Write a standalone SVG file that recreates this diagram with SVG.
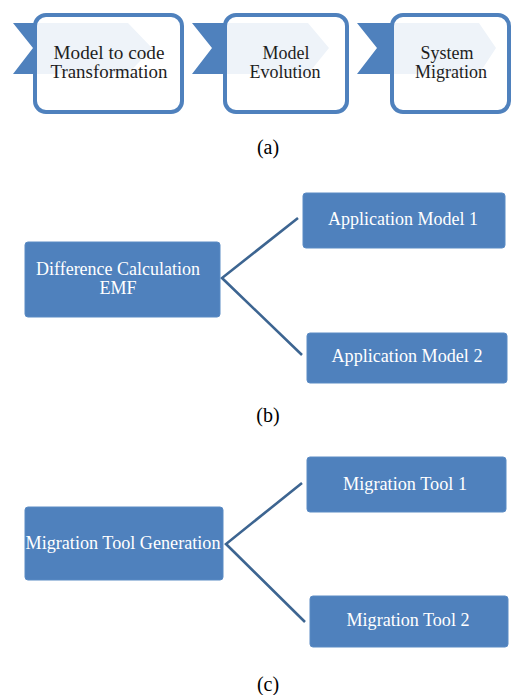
<svg xmlns="http://www.w3.org/2000/svg" width="511" height="695" viewBox="0 0 511 695">
<style>
.chev{fill:#4f81bd}
.pbox{fill:#ffffff;fill-opacity:0.9;stroke:#4f81bd;stroke-width:4}
text{font-family:'Liberation Serif','Times New Roman','DejaVu Serif',serif}
.ptxt{font-size:18px;fill:#1e1e1e;text-anchor:middle}
.bbox{fill:#4f81bd;stroke:#5b8bc4;stroke-width:1}
.btxt{font-size:18px;fill:#ffffff;text-anchor:middle}
.cap{font-size:20px;fill:#000000;text-anchor:middle}
.conn{fill:none;stroke:#3d6591;stroke-width:2.6}
</style>
<rect width="511" height="695" fill="#ffffff"/>
<g id="step1">
<polygon class="chev" points="13,23 128,23 152,48 128,74 13,74 33,48"/>
<rect class="pbox" x="35" y="15" width="147" height="97" rx="11"/>
<text class="ptxt" x="109" y="59" textLength="111" lengthAdjust="spacingAndGlyphs">Model to code</text>
<text class="ptxt" x="109" y="78" textLength="117" lengthAdjust="spacingAndGlyphs">Transformation</text>
</g>
<g id="step2">
<polygon class="chev" points="192,23 308,23 329,48 308,74 192,74 212,48"/>
<rect class="pbox" x="225" y="15" width="122" height="97" rx="11"/>
<text class="ptxt" x="286" y="59">Model</text>
<text class="ptxt" x="285" y="78">Evolution</text>
</g>
<g id="step3">
<polygon class="chev" points="357,23 479,23 496,48 479,74 357,74 377,48"/>
<rect class="pbox" x="392" y="15" width="117" height="97" rx="11"/>
<text class="ptxt" x="447" y="59">System</text>
<text class="ptxt" x="451" y="78">Migration</text>
</g>
<text class="cap" x="268" y="154">(a)</text>
<g id="connectors">
<polyline class="conn" points="298,218 222,278 302,355"/>
<polyline class="conn" points="302,483 226,544 305,622"/>
</g>
<g id="diffcalc">
<rect class="bbox" x="25" y="242" width="195" height="75" rx="3"/>
<text class="btxt" x="118" y="275" textLength="164" lengthAdjust="spacingAndGlyphs">Difference  Calculation</text>
<text class="btxt" x="118" y="294">EMF</text>
</g>
<g id="appmodel1">
<rect class="bbox" x="303" y="193" width="202" height="55" rx="3"/>
<text class="btxt" x="403" y="225" textLength="150" lengthAdjust="spacingAndGlyphs">Application Model 1</text>
</g>
<g id="appmodel2">
<rect class="bbox" x="307" y="333" width="200" height="50" rx="3"/>
<text class="btxt" x="407" y="362" textLength="151" lengthAdjust="spacingAndGlyphs">Application Model 2</text>
</g>
<text class="cap" x="268" y="422">(b)</text>
<g id="migtoolgen">
<rect class="bbox" x="25" y="507" width="198" height="73" rx="3"/>
<text class="btxt" x="123" y="549" textLength="195" lengthAdjust="spacingAndGlyphs">Migration Tool Generation</text>
</g>
<g id="migtool1">
<rect class="bbox" x="307" y="457" width="199" height="55" rx="3"/>
<text class="btxt" x="405" y="490" textLength="124" lengthAdjust="spacingAndGlyphs">Migration Tool 1</text>
</g>
<g id="migtool2">
<rect class="bbox" x="310" y="596" width="198" height="51" rx="3"/>
<text class="btxt" x="408" y="626" textLength="123" lengthAdjust="spacingAndGlyphs">Migration Tool 2</text>
</g>
<text class="cap" x="268" y="691">(c)</text>
</svg>
